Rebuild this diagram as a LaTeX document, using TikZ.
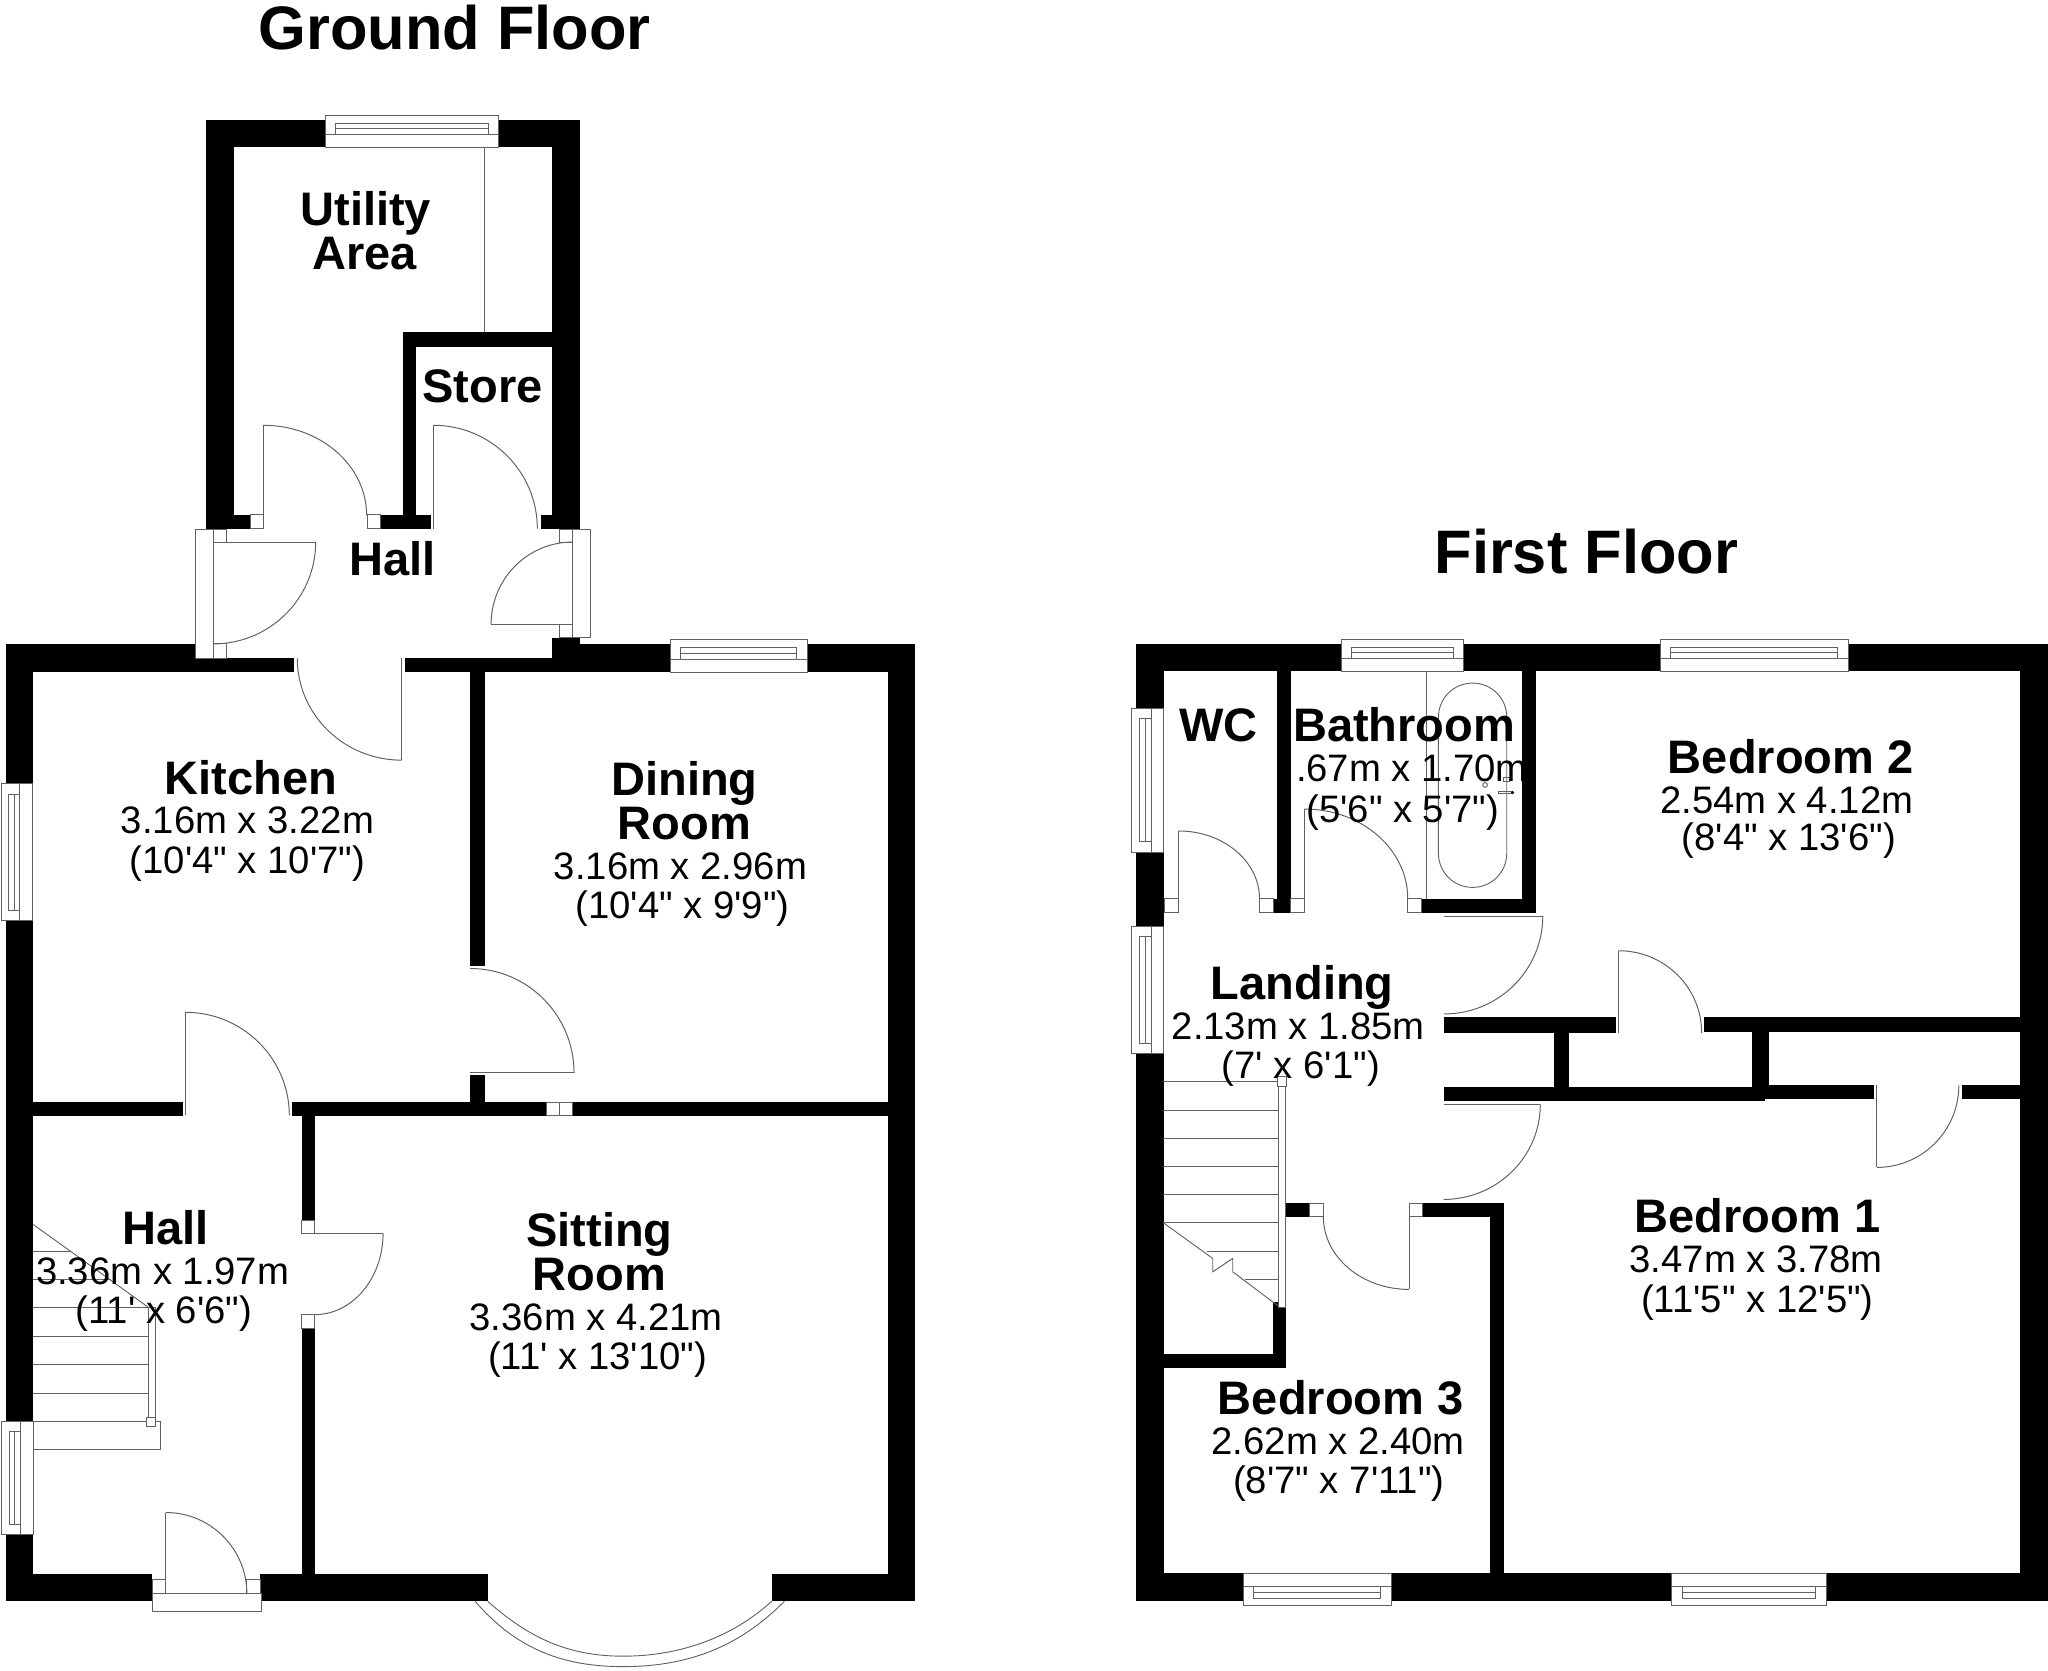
\documentclass[tikz,border=0pt]{standalone}
\usepackage{fontspec}
\newfontfamily\lib{Liberation Sans}
\definecolor{linegray}{gray}{0.38}
\tikzset{
  door/.style={draw=linegray,line width=0.75pt},
  thinline/.style={draw=linegray,line width=0.7pt},
  jamb/.style={draw=linegray,fill=white,line width=0.7pt},
  title/.style={inner sep=0pt,anchor=base,font=\lib\bfseries\fontsize{47}{47}\selectfont},
  rname/.style={inner sep=0pt,anchor=base,yshift=-1pt,font=\lib\bfseries\fontsize{36}{36}\selectfont},
  rdim/.style={inner sep=0pt,anchor=base,yshift=-0.5pt,font=\lib\fontsize{29.3}{30}\selectfont}
}
\newcommand{\wl}[4]{\fill[black] (#1,#2) rectangle (#3,#4);}
\newcommand{\jb}[4]{\draw[jamb] (#1,#2) rectangle (#3,#4);}
\newcommand{\qa}[4]{\draw[door] (#1,#2) .. controls ({#1+.5523*(#3-#1)},#2) and (#3,{#4-.5523*(#4-#2)}) .. (#3,#4);}
\newcommand{\leaf}[4]{\draw[door] (#1,#2) -- (#3,#4);}
% horizontal window: x1 x2, outer y, inner y
\newcommand{\winh}[4]{%
  \pgfmathsetmacro{\da}{#3+.24*(#4-#3)}\pgfmathsetmacro{\db}{#3+.42*(#4-#3)}\pgfmathsetmacro{\dc}{#3+.6*(#4-#3)}%
  \pgfmathsetmacro{\ea}{#1+8}\pgfmathsetmacro{\eb}{#2-8}%
  \draw[jamb] (#1,#3) rectangle (#2,#4);
  \draw[thinline] (#1,\dc) -- (#2,\dc) (\ea,\da) rectangle (\eb,\dc) (\ea,\db) -- (\eb,\db);}
% vertical window: y1 y2, outer x, inner x
\newcommand{\winv}[4]{%
  \pgfmathsetmacro{\da}{#3+.24*(#4-#3)}\pgfmathsetmacro{\db}{#3+.42*(#4-#3)}\pgfmathsetmacro{\dc}{#3+.6*(#4-#3)}%
  \pgfmathsetmacro{\ea}{#1+8}\pgfmathsetmacro{\eb}{#2-8}%
  \draw[jamb] (#3,#1) rectangle (#4,#2);
  \draw[thinline] (\dc,#1) -- (\dc,#2) (\da,\ea) rectangle (\dc,\eb) (\db,\ea) -- (\db,\eb);}
\begin{document}
\begin{tikzpicture}[x=1pt,y=-1pt]
\useasboundingbox (0,0) rectangle (1568,1278.6);
\fill[white] (0,0) rectangle (1568,1278.6);
% ===== Ground floor walls
% utility block
\wl{157.7}{91.8}{443.8}{112.9}
\wl{157.7}{91.8}{179}{404.8}
\wl{422.6}{91.8}{443.8}{404.8}
\wl{179}{394.2}{191.6}{404.8}
\wl{291.4}{394.2}{329.7}{404.8}
\wl{308.3}{254}{318.7}{404.8}
\wl{308.3}{254}{422.6}{265.6}
\wl{414}{394.2}{422.6}{404.8}
\draw[thinline] (370.8,113) -- (370.8,254);
% main block
\wl{4.5}{493}{149.3}{514.6}
\wl{149.3}{504}{225.3}{514.6}
\wl{309.8}{504}{680}{514.6}
\wl{422.6}{488.3}{443.8}{514.6}
\wl{422.6}{493}{700.5}{514.6}
\wl{680}{493}{700.5}{1226}
\wl{4.5}{493}{25.5}{1226}
\wl{4.5}{1205}{116.6}{1226}
\wl{199.3}{1205}{373.4}{1226}
\wl{590.8}{1205}{700.5}{1226}
\wl{360}{514}{371}{739.7}
\wl{360}{823}{371}{846}
\wl{25.5}{843.8}{139.8}{854.3}
\wl{223.9}{843.8}{680}{854.3}
\wl{230.9}{854}{241}{934.4}
\wl{230.9}{1017}{241}{1206}
% ===== Ground floor windows, jambs, doors
\winh{249}{382}{88.3}{113}
\winh{513}{618}{489.5}{514.6}
\winv{600}{705}{1}{24.5}
\winv{1088}{1175}{1.2}{25.5}
\draw[jamb] (149.3,405) rectangle (163.3,503.8);
\jb{163.3}{405}{173.5}{415}\jb{163.3}{493}{173.5}{503.8}
\draw[jamb] (438.4,405) rectangle (452.2,488.3);
\jb{428}{405}{438.4}{415}\jb{428}{478}{438.4}{488.3}
\jb{191.6}{394.2}{201.6}{404.8}
\jb{281}{394.2}{291.4}{404.8}
\jb{418}{844}{428}{854.3}\jb{428}{844}{438.3}{854.3}
\jb{230.9}{934.4}{241}{944.2}
\jb{230.9}{1006.5}{241}{1017}
\jb{116.6}{1209.5}{127}{1220}\jb{189}{1209.5}{199.3}{1220}
\draw[jamb] (116.6,1220) rectangle (199.8,1234);
\leaf{201.6}{404.8}{201.6}{325.6}\qa{201.6}{325.6}{280.7}{394.5}
\leaf{331.8}{404.8}{331.8}{325.6}\qa{331.8}{325.6}{411.4}{404.8}
\leaf{438.4}{478}{376}{478}\qa{438.4}{415}{376}{478}
\leaf{163.3}{415}{241.7}{415}\qa{163.3}{493}{241.7}{415}
\leaf{307.5}{504}{307.5}{582}\qa{307.5}{582}{227.6}{504}
\leaf{360}{821.4}{439.5}{821.4}\qa{360}{741.5}{439.5}{821.4}
\leaf{141.8}{854}{141.8}{775}\qa{141.8}{775}{221.5}{854}
\leaf{241}{944.2}{293.3}{944.2}\qa{241}{1006.5}{293.3}{944.2}
\leaf{126.9}{1220}{126.9}{1158}\qa{126.9}{1158}{189}{1220}
% bay window
\draw[thinline] (363.7,1226) .. controls (395,1262) and (430,1276) .. (477,1276) .. controls (525,1276) and (565,1262) .. (600.5,1226);
\draw[thinline] (373.4,1226) .. controls (405,1254) and (435,1268) .. (477,1268) .. controls (520,1268) and (560,1254) .. (590.8,1226);
% ground stairs
\draw[thinline] (25.5,937.5) -- (113.7,1001);
\draw[thinline] (25.5,958.3) -- (54.4,958.3) (25.5,979.8) -- (85,979.8) (25.5,1001.3) -- (113.7,1001.3);
\foreach \yy in {1023.4,1044.9,1066.7}{\draw[thinline] (25.5,\yy) -- (113.7,\yy);}
\draw[thinline] (25.5,1088.2) rectangle (123,1110);
\draw[jamb] (113.7,1001) rectangle (118.7,1086);
\draw[jamb] (112,1085) rectangle (119,1092);
% ===== First floor walls
\wl{869.8}{493}{1568}{514}
\wl{869.8}{493}{891}{1226}
\wl{1546.7}{493}{1568}{1226}
\wl{869.8}{1204.5}{1568}{1226}
\wl{977.5}{514}{988.3}{698.8}
\wl{975}{688}{988.3}{698.8}
\wl{1088.3}{688}{1175.8}{698.8}
\wl{1165}{514}{1175.8}{698.8}
\wl{1105.5}{779}{1237}{790.5}
\wl{1304.7}{779}{1546.7}{790}
\wl{1190}{790}{1201.2}{832}
\wl{1341}{790}{1354}{832}
\wl{1105.5}{832}{1351.4}{843}
\wl{1351}{831}{1435}{841.7}
\wl{1502}{831}{1546.7}{841.7}
\wl{975}{996.7}{984.4}{1040}
\wl{890.7}{1036.7}{984.4}{1047.5}
\wl{984.4}{921.4}{1002.5}{931.6}
\wl{1089.3}{921.4}{1151.5}{931.6}
\wl{1140.8}{921.4}{1151.5}{1206}
% ===== First floor windows, jambs, doors
\winh{1026.8}{1120.7}{489.5}{514}
\winh{1271}{1415}{489.5}{514}
\winh{952}{1065}{1229.5}{1204.5}
\winh{1280}{1398}{1229.5}{1204.5}
\winv{542.3}{652.6}{866.5}{891}
\winv{709}{806.7}{866.5}{891}
\jb{891.5}{688}{902.3}{698.8}
\jb{964.3}{688}{975}{698.8}
\jb{988.3}{688}{998.7}{698.8}
\jb{1077.8}{688}{1088.3}{698.8}
\jb{1002.5}{921.4}{1013.2}{931.6}
\jb{1078.8}{921.4}{1089.3}{931.6}
\leaf{902.3}{698.8}{902.3}{636.2}\qa{902.3}{636.2}{964.3}{688}
\leaf{998.7}{698.8}{998.7}{619.4}\qa{998.7}{619.4}{1077.8}{688}
\leaf{1105.7}{701.3}{1181.2}{701.3}\qa{1105.7}{776.3}{1181.2}{701.3}
\leaf{1239.3}{790.7}{1239.3}{727.9}\qa{1239.3}{727.9}{1302.8}{790.7}
\leaf{1437}{831}{1437}{893.8}\qa{1437}{893.8}{1499.7}{831}
\leaf{1105.3}{845.5}{1179.3}{845.5}\qa{1105.3}{918.3}{1179.3}{845.5}
\leaf{1078.8}{931.6}{1078.8}{987.2}\qa{1078.8}{987.2}{1013.2}{931.6}
% bath
\draw[thinline] (1092.1,514) -- (1092.1,688);
\draw[thinline,rounded corners=26pt] (1101.3,523) rectangle (1153.6,679.4);
\draw[thinline] (1137,601) circle (1.8);
\draw[thinline] (1151,595) rectangle (1156,598) (1147,606) rectangle (1157,607.5);
\fill[black] (1158,606.8) circle (1.3);
% first stairs
\foreach \yy in {828.2,850,871.6,893.3,914.5,936.2}{\draw[thinline] (890.7,\yy) -- (978.8,\yy);}
\draw[thinline] (923.9,957.9) -- (978.8,957.9) (953,979.6) -- (978.8,979.6);
\draw[thinline] (890.7,936.2) -- (928.5,963.5) -- (928.5,973.7) -- (943.8,963.5) -- (943.8,973.7) -- (978.8,1000);
\draw[jamb] (978.8,831.6) rectangle (984.4,1001);
\draw[jamb] (978.3,824.4) rectangle (985.2,831.6);
% ===== Labels
\node[title] (gf) at (348,38) {Ground Floor};
\node[title] (ff) at (1214.5,439) {First Floor};
\node[rname] (ut) at (280,171.5) {Utility};
\node[rname] (ar) at (279,205.5) {Area};
\node[rname] (st) at (369.5,307.5) {Store};
\node[rname] (ha) at (300.5,439.5) {Hall};
\node[rname] (ki) at (192,607) {Kitchen};
\node[rdim] (kia) at (189.5,638) {3.16m x 3.22m};
\node[rdim] (kib) at (189.5,668) {(10'4" x 10'7")};
\node[rname] (di) at (524,608) {Dining};
\node[rname] (dr) at (524,642) {Room};
\node[rdim] (dia) at (521,673) {3.16m x 2.96m};
\node[rdim] (dib) at (522.5,703) {(10'4" x 9'9")};
\node[rname] (si) at (459,953) {Sitting};
\node[rname] (sr) at (459,987) {Room};
\node[rdim] (sia) at (456.5,1018) {3.36m x 4.21m};
\node[rdim] (sib) at (457.5,1048) {(11' x 13'10")};
\node[rname] (hl) at (127,952) {Hall};
\node[rdim] (hla) at (124.5,983) {3.36m x 1.97m};
\node[rdim] (hlb) at (125.5,1013) {(11' x 6'6")};
\node[rname] (wc) at (933,567) {WC};
\node[rname] (ba) at (1075,567) {Bathroom};
\node[rdim] (baa) at (1081,598) {.67m x 1.70m};
\node[rdim] (bab) at (1074,629) {(5'6" x 5'7")};
\node[rname] (bt) at (1371,591) {Bedroom 2};
\node[rdim] (bta) at (1368,622) {2.54m x 4.12m};
\node[rdim] (btb) at (1369.5,651) {(8'4" x 13'6")};
\node[rname] (la) at (997,764) {Landing};
\node[rdim] (laa) at (994,795) {2.13m x 1.85m};
\node[rdim] (lab) at (996,825) {(7' x 6'1")};
\node[rname] (bo) at (1345.5,943) {Bedroom 1};
\node[rdim] (boa) at (1344.5,974) {3.47m x 3.78m};
\node[rdim] (bob) at (1345.5,1004) {(11'5" x 12'5")};
\node[rname] (bh) at (1026.5,1082) {Bedroom 3};
\node[rdim] (bha) at (1024.5,1113) {2.62m x 2.40m};
\node[rdim] (bhb) at (1025,1143) {(8'7" x 7'11")};
\end{tikzpicture}
\end{document}
